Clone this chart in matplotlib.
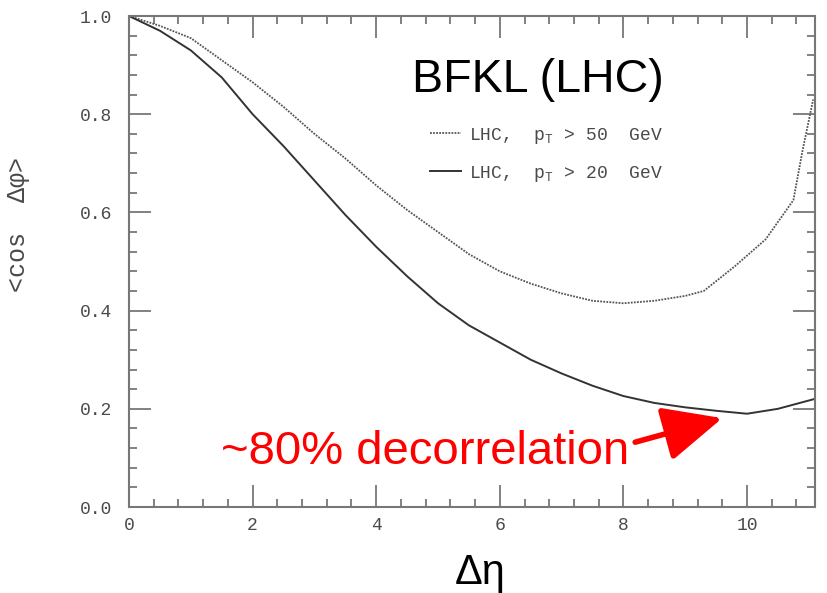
import numpy as np
import matplotlib
matplotlib.use("Agg")
import matplotlib.pyplot as plt
from matplotlib.ticker import MultipleLocator, FormatStrFormatter

# <cos dphi> vs rapidity separation, BFKL prediction at LHC energies
eta_50 = [0.0, 0.5, 1.0, 1.5, 2.0, 2.5, 3.0, 3.5, 4.0, 4.5, 5.0, 5.5, 6.0,
          6.5, 7.0, 7.5, 8.0, 8.5, 9.0, 9.3, 9.8, 10.3, 10.75, 10.9, 11.07]
cos_50 = [1.0, 0.98, 0.955, 0.91, 0.865, 0.815, 0.76, 0.71, 0.655, 0.605,
          0.56, 0.515, 0.48, 0.455, 0.435, 0.42, 0.415, 0.42, 0.43, 0.44,
          0.49, 0.545, 0.625, 0.727, 0.83]

eta_20 = [0.0, 0.5, 1.0, 1.5, 2.0, 2.5, 3.0, 3.5, 4.0, 4.5, 5.0, 5.5, 6.0,
          6.5, 7.0, 7.5, 8.0, 8.5, 9.0, 9.5, 10.0, 10.5, 11.15]
cos_20 = [1.0, 0.97, 0.93, 0.875, 0.80, 0.735, 0.665, 0.595, 0.53, 0.47,
          0.415, 0.37, 0.335, 0.30, 0.272, 0.247, 0.226, 0.212, 0.203,
          0.196, 0.19, 0.20, 0.222]

label_50 = r"LHC,  $\mathrm{p_T}$ > 50  GeV"
label_20 = r"LHC,  $\mathrm{p_T}$ > 20  GeV"

plt.rcParams["mathtext.fontset"] = "custom"
plt.rcParams["mathtext.rm"] = "Liberation Mono"
plt.rcParams["mathtext.it"] = "Liberation Mono:italic"

mono = ["Liberation Mono", "DejaVu Sans Mono"]
sans = ["Liberation Sans", "DejaVu Sans"]
axis_grey = "#777777"
text_grey = "#4a4a4a"

fig = plt.figure(figsize=(8.27, 5.93), dpi=100)
ax = fig.add_axes([0.156, 0.145, 0.8295, 0.828])

ax.plot(eta_50, cos_50, color="#555555", lw=1.3, ls=(0, (1, 0.7)), label=label_50)
ax.plot(eta_20, cos_20, color="#333333", lw=1.4, label=label_20)

ax.set_xlim(0, 11.1)
ax.set_ylim(0, 1.0)
ax.xaxis.set_major_locator(MultipleLocator(2))
ax.xaxis.set_minor_locator(MultipleLocator(0.4))
ax.yaxis.set_major_locator(MultipleLocator(0.2))
ax.yaxis.set_minor_locator(MultipleLocator(0.04))
ax.yaxis.set_major_formatter(FormatStrFormatter("%.1f"))
ax.tick_params(which="both", direction="in", top=True, right=True,
               color=axis_grey, width=1.3, labelcolor=text_grey,
               labelfontfamily="Liberation Mono", labelsize=13)
ax.tick_params(which="major", length=16)
ax.tick_params(which="minor", length=6)
ax.tick_params(axis="x", pad=7)
ax.tick_params(axis="y", pad=12)
for sp in ax.spines.values():
    sp.set_color(axis_grey)
    sp.set_linewidth(1.5)

ax.set_ylabel("<cos  Δφ>", family=mono, fontsize=18, color=text_grey)
ax.yaxis.set_label_coords(-0.145, 0.575)
ax.set_xlabel("Δη", family=sans, fontsize=30, color="black")
ax.xaxis.set_label_coords(0.512, -0.093)

ax.legend(loc="upper left", bbox_to_anchor=(0.52, 0.788),
          bbox_transform=fig.transFigure, frameon=False,
          prop={"family": mono, "size": 13}, labelcolor=text_grey,
          handlelength=1.7, handletextpad=0.45, labelspacing=1.0,
          borderpad=0, borderaxespad=0)

ax.text(6.62, 0.87, "BFKL (LHC)", family=sans, fontsize=33.5,
        ha="center", va="center", color="black")

ax.text(4.79, 0.112, "~80% decorrelation", family=sans, fontsize=34,
        color="red", ha="center", va="center")
ax.annotate("", xy=(9.6, 0.181), xytext=(8.19, 0.132),
            arrowprops=dict(arrowstyle="-|>,head_length=1.3,head_width=0.6",
                            color="red", lw=4, mutation_scale=28,
                            shrinkA=0, shrinkB=0))

fig.savefig("out.png", dpi=100)
